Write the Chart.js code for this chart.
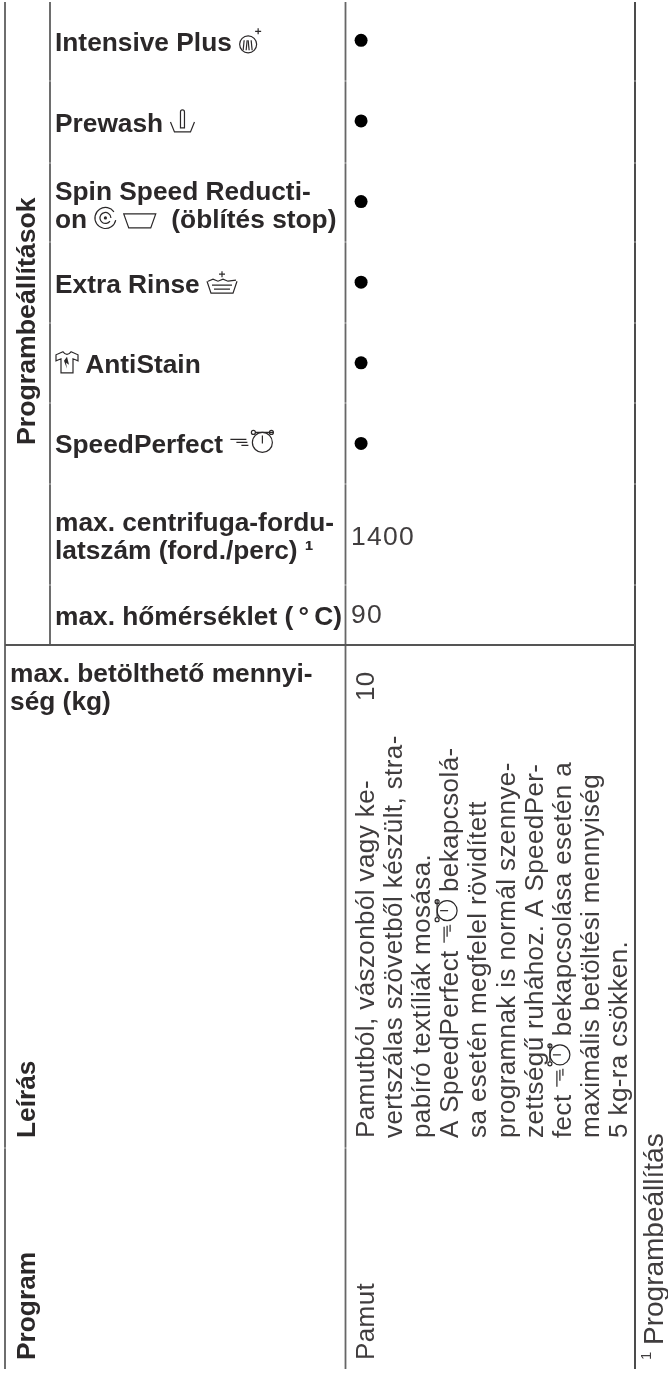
<!DOCTYPE html>
<html>
<head>
<meta charset="utf-8">
<title>Programbeállítások</title>
<script src="https://cdn.jsdelivr.net/npm/chart.js@4"></script>
<style>
  html, body { margin: 0; background: #fff; }
  canvas { display: block; }
</style>
</head>
<body>
<canvas id="table" width="668" height="1374"></canvas>
<script>
// table contents
const rowLabels = [
  ['Intensive Plus {intensive}'],
  ['Prewash {prewash}'],
  ['Spin Speed Reducti-', 'on {spiral} {tub}  (öblítés stop)'],
  ['Extra Rinse {rinse}'],
  ['{shirt} AntiStain'],
  ['SpeedPerfect {clock}'],
  ['max. centrifuga-fordu-', 'latszám (ford./perc) ¹'],
  ['max. hőmérséklet (\u2009°\u2009C)']
];
const available = [1, 1, 1, 1, 1, 1, null, null];
const cellValues = [null, null, null, null, null, null, '1400', '90'];
const groupLabel = 'Programbeállítások';
const loadLabel = ['max. betölthető mennyi-', 'ség (kg)'];
const loadValue = '10';
const headers = ['Program', 'Leírás'];
const programName = 'Pamut';
const description = [
  'Pamutból, vászonból vagy ke-',
  'vertszálas szövetből készült, stra-',
  'pabíró textíliák mosása.',
  'A SpeedPerfect {clock} bekapcsolá-',
  'sa esetén megfelel rövidített',
  'programnak is normál szennye-',
  'zettségű ruhához. A SpeedPer-',
  'fect {clock} bekapcsolása esetén a',
  'maximális betöltési mennyiség',
  '5 kg-ra csökken.'
];
const footnote = 'Programbeállítás';

// layout, all in canvas px
const INK = '#2b2829';
const SOFT = '#403d3e';
const BOLD = 'bold 26.3px "Liberation Sans"';
const GROUP = 'bold 26.7px "Liberation Sans"';
const REGULAR = '26px "Liberation Sans"';
const DIGITS = '26.5px "Liberation Sans"';
const FOOT = '28px "Liberation Sans"';
const spacing = { [REGULAR]: '0.4px', [DIGITS]: '1.3px' };
const rowNudge = [11, 11, -2, 11, 10, 10, 7, 20];
const valueNudge = [0, 0, 0, 0, 0, 0, 20.5, 18];
const LINE = 28.4;

// little washing machine symbols, origin = left end of baseline
const icons = {
  intensive: { w: 24, draw(c) {
    c.beginPath(); c.arc(9, -7, 8.5, 0, Math.PI * 2); c.stroke();
    [4, 7, 10, 13].forEach(x => { c.beginPath(); c.moveTo(x, -1); c.lineTo(x + (x < 9 ? 1 : -1), -11); c.stroke(); });
    c.beginPath(); c.moveTo(16, -20); c.lineTo(22, -20); c.moveTo(19, -23); c.lineTo(19, -17); c.stroke();
  } },
  prewash: { w: 25, draw(c) {
    c.beginPath(); c.moveTo(0, -10); c.lineTo(4, 0); c.lineTo(20, 0); c.lineTo(24, -10); c.stroke();
    c.beginPath(); c.moveTo(10, -4); c.lineTo(10, -20); c.arc(12, -20, 2, Math.PI, 0); c.lineTo(14, -4); c.closePath(); c.stroke();
  } },
  spiral: { w: 22, draw(c) {
    c.beginPath(); c.arc(11, -10, 10.5, 0.2, Math.PI * 1.8); c.stroke();
    c.beginPath(); c.arc(11, -10, 5.5, 0.6, Math.PI * 2); c.stroke();
    c.beginPath(); c.arc(11, -10, 1.6, 0, Math.PI * 2); c.fill();
  } },
  tub: { w: 33, draw(c) {
    c.beginPath(); c.moveTo(0, -14); c.lineTo(32, -14); c.lineTo(27, 0); c.lineTo(5, 0); c.closePath(); c.stroke();
  } },
  rinse: { w: 31, draw(c) {
    c.beginPath(); c.moveTo(0, -12); c.lineTo(4, 0); c.lineTo(26, 0); c.lineTo(30, -12); c.stroke();
    c.beginPath(); c.moveTo(1, -12); c.lineTo(6, -14); c.lineTo(11, -12); c.lineTo(16, -14); c.lineTo(21, -12); c.lineTo(29, -13); c.stroke();
    c.beginPath(); c.moveTo(5, -8); c.lineTo(25, -8); c.moveTo(7, -4); c.lineTo(23, -4); c.stroke();
    c.beginPath(); c.moveTo(12, -19); c.lineTo(18, -19); c.moveTo(15, -22); c.lineTo(15, -16); c.stroke();
  } },
  shirt: { w: 23, draw(c) {
    c.beginPath(); c.moveTo(6, 0); c.lineTo(18, 0); c.lineTo(18, -14); c.lineTo(23, -12); c.lineTo(23, -18);
    c.lineTo(16, -21); c.quadraticCurveTo(12, -16, 8, -21); c.lineTo(1, -18); c.lineTo(1, -12); c.lineTo(6, -14); c.closePath(); c.stroke();
    c.beginPath(); c.moveTo(12, -16); c.lineTo(14, -8); c.lineTo(11, -10); c.lineTo(12, -4); c.lineTo(9, -12); c.closePath(); c.fill();
  } },
  clock: { w: 43, draw(c) {
    c.beginPath(); c.moveTo(0, -14); c.lineTo(16, -14); c.moveTo(6, -11); c.lineTo(17, -11); c.moveTo(11, -8); c.lineTo(18, -8); c.stroke();
    c.beginPath(); c.arc(32, -11, 10, 0, Math.PI * 2); c.stroke();
    c.beginPath(); c.moveTo(32, -18); c.lineTo(32, -10); c.stroke();
    c.beginPath(); c.arc(23, -21, 2, 0, Math.PI * 2); c.arc(41, -21, 2, 0, Math.PI * 2); c.stroke();
  } }
};

// writes a line, swapping {name} tokens for their icon
function writeLine(c, text, x, y, font, angle, color) {
  c.save();
  c.translate(x, y);
  if (angle) c.rotate(angle);
  c.font = font;
  c.letterSpacing = spacing[font] || '0px';
  c.fillStyle = color || INK;
  c.strokeStyle = INK;
  c.lineWidth = 1.2;
  c.textAlign = 'left';
  c.textBaseline = 'alphabetic';
  let pos = 0;
  text.split(/(\{\w+\})/).forEach(part => {
    const m = part.match(/^\{(\w+)\}$/);
    if (m) {
      c.save();
      c.translate(pos, 0);
      icons[m[1]].draw(c);
      c.restore();
      pos += icons[m[1]].w;
    } else if (part) {
      c.fillText(part, pos, 0);
      pos += c.measureText(part).width;
    }
  });
  c.restore();
}

const UP = -Math.PI / 2;

const tablePlugin = {
  id: 'tablePlugin',
  afterDraw(chart) {
    const c = chart.ctx;
    const y = chart.scales.y;

    // rules
    c.save();
    const rule = (x1, y1, x2, y2, color, width) => {
      c.strokeStyle = color;
      c.lineWidth = width;
      c.beginPath(); c.moveTo(x1, y1); c.lineTo(x2, y2); c.stroke();
    };
    rule(5, 2, 5, 1369, '#4a4a4a', 1.6);
    rule(50, 2, 50, 645, '#4a4a4a', 1.6);
    rule(345.5, 2, 345.5, 1369, '#666', 1.8);
    rule(635, 2, 635, 1369, '#383838', 1.8);
    rule(5, 645, 635, 645, '#555', 1.8);
    // faint nicks where the row separators cross the rules
    [81, 163, 242, 323, 403, 484, 585].forEach(v => {
      rule(49, v, 51, v, 'rgba(255,255,255,0.55)', 1);
      rule(344, v, 347, v, 'rgba(255,255,255,0.55)', 1);
      rule(634, v, 636, v, 'rgba(255,255,255,0.55)', 1);
    });
    rule(4, 1148, 6, 1148, 'rgba(255,255,255,0.55)', 1);
    rule(344, 1148, 347, 1148, 'rgba(255,255,255,0.55)', 1);
    c.restore();

    // setting rows
    rowLabels.forEach((lines, i) => {
      const base = y.getPixelForValue(i) + rowNudge[i];
      lines.forEach((t, k) => writeLine(c, t, 55, base + k * LINE, BOLD));
      if (cellValues[i]) writeLine(c, cellValues[i], 351, y.getPixelForValue(i) + valueNudge[i], DIGITS, 0, SOFT);
    });

    writeLine(c, groupLabel, 35, 445, GROUP, UP);
    loadLabel.forEach((t, k) => writeLine(c, t, 10, 682 + k * LINE, BOLD));
    writeLine(c, loadValue, 374, 701, REGULAR, UP, SOFT);

    writeLine(c, headers[0], 35, 1360, BOLD, UP);
    writeLine(c, headers[1], 35, 1138, BOLD, UP);
    writeLine(c, programName, 373.5, 1360, REGULAR, UP, SOFT);
    description.forEach((t, k) => writeLine(c, t, 373.5 + k * 28.2, 1138, REGULAR, UP, SOFT));

    writeLine(c, '1', 651, 1360, '15px "Liberation Sans"', UP, SOFT);
    writeLine(c, footnote, 663, 1345, FOOT, UP, SOFT);
  }
};

new Chart(document.getElementById('table'), {
  type: 'line',
  data: {
    labels: rowLabels.map(l => l.join(' ')),
    datasets: [{
      data: available,
      showLine: false,
      pointRadius: 6.5,
      pointHoverRadius: 6.5,
      pointBackgroundColor: '#000',
      pointBorderWidth: 0
    }]
  },
  options: {
    indexAxis: 'y',
    responsive: false,
    animation: false,
    layout: { autoPadding: false, padding: { bottom: 729 } },
    plugins: { legend: { display: false }, tooltip: { enabled: false } },
    scales: {
      x: { display: false, min: 0, max: 1.85 },
      y: { display: false, type: 'category', offset: true }
    }
  },
  plugins: [tablePlugin]
});
</script>
</body>
</html>
